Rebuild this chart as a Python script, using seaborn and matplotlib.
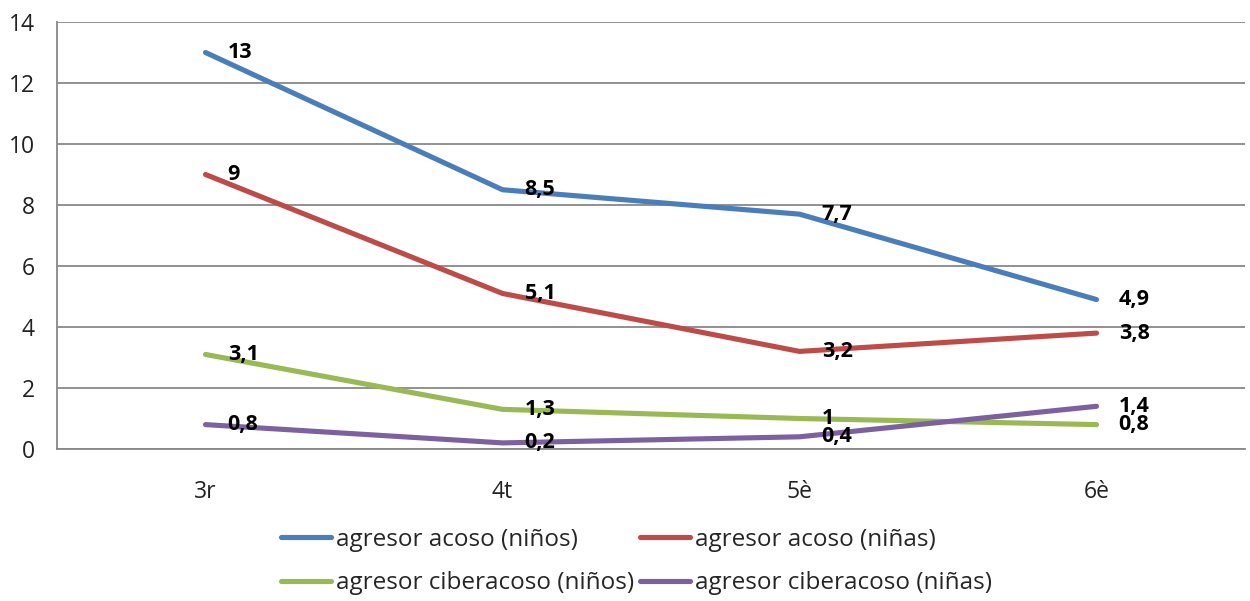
import matplotlib
matplotlib.use("Agg")
import matplotlib.pyplot as plt
import seaborn as sns
import pandas as pd
import numpy as np

cursos = ["3r", "4t", "5è", "6è"]
acoso_ninos = [13, 8.5, 7.7, 4.9]
acoso_ninas = [9, 5.1, 3.2, 3.8]
ciber_ninos = [3.1, 1.3, 1, 0.8]
ciber_ninas = [0.8, 0.2, 0.4, 1.4]
series_names = ["agresor acoso (niños)", "agresor acoso (niñas)",
                "agresor ciberacoso (niños)", "agresor ciberacoso (niñas)"]
series_values = [acoso_ninos, acoso_ninas, ciber_ninos, ciber_ninas]
colors = ["#4A7EBB", "#BE4B48", "#98B954", "#7D60A0"]

sns.set_theme(style="white")
plt.rcParams["font.family"] = ["Open Sans", "DejaVu Sans"]

rows = []
for name, vals in zip(series_names, series_values):
    for i, (c, v) in enumerate(zip(cursos, vals)):
        rows.append({"pos": i + 0.5, "curso": c, "valor": v, "serie": name})
df = pd.DataFrame(rows)

fig = plt.figure(figsize=(12.5, 6.01), dpi=100)
ax = fig.add_axes([0.0456, 0.2529, 0.9504, 0.7105])

sns.lineplot(data=df, x="pos", y="valor", hue="serie", hue_order=series_names,
             palette=colors, linewidth=3.7, ax=ax, sort=False, legend=True)

# value labels to the right of each point
for name, vals in zip(series_names, series_values):
    for i, v in enumerate(vals):
        txt = f"{v:g}".replace(".", ",")
        ax.annotate(txt, (i + 0.5, v), xytext=(16, 0), textcoords="offset points",
                    ha="left", va="center", fontsize=15.5, fontweight="bold",
                    color="black")

ax.set_xlim(0, 4)
ax.set_ylim(0, 14)
ax.set_yticks(np.arange(0, 15, 2))
ax.set_xticks([0.5, 1.5, 2.5, 3.5])
ax.set_xticklabels(cursos)
ax.set_xticks(np.arange(0, 5, 1), minor=True)
ax.set_xlabel("")
ax.set_ylabel("")

ax.yaxis.grid(True, color="#888888", linewidth=1.3)
ax.xaxis.grid(False)
for side in ["top", "right"]:
    ax.spines[side].set_visible(False)
for side in ["left", "bottom"]:
    ax.spines[side].set_color("#888888")
    ax.spines[side].set_linewidth(1.3)

ax.tick_params(axis="x", which="major", length=0, pad=22, labelsize=16.5, colors="#222222")
ax.tick_params(axis="x", which="minor", length=8, width=1.3, color="#888888", direction="out")
ax.tick_params(axis="y", which="major", length=8, width=1.3, color="#888888",
               direction="out", labelsize=16.5, labelcolor="#222222", pad=8)

handles, labels = ax.get_legend_handles_labels()
ax.get_legend().remove()
order = [0, 2, 1, 3]
fig.legend([handles[i] for i in order], [labels[i] for i in order],
           ncol=2, loc="center", bbox_to_anchor=(0.509, 0.066), frameon=False,
           fontsize=17.5, handlelength=2.05, handletextpad=0.2, columnspacing=0.25,
           labelspacing=0.8)
for h in fig.legends[0].get_lines():
    h.set_linewidth(3.7)

fig.savefig("out.png", dpi=100)
